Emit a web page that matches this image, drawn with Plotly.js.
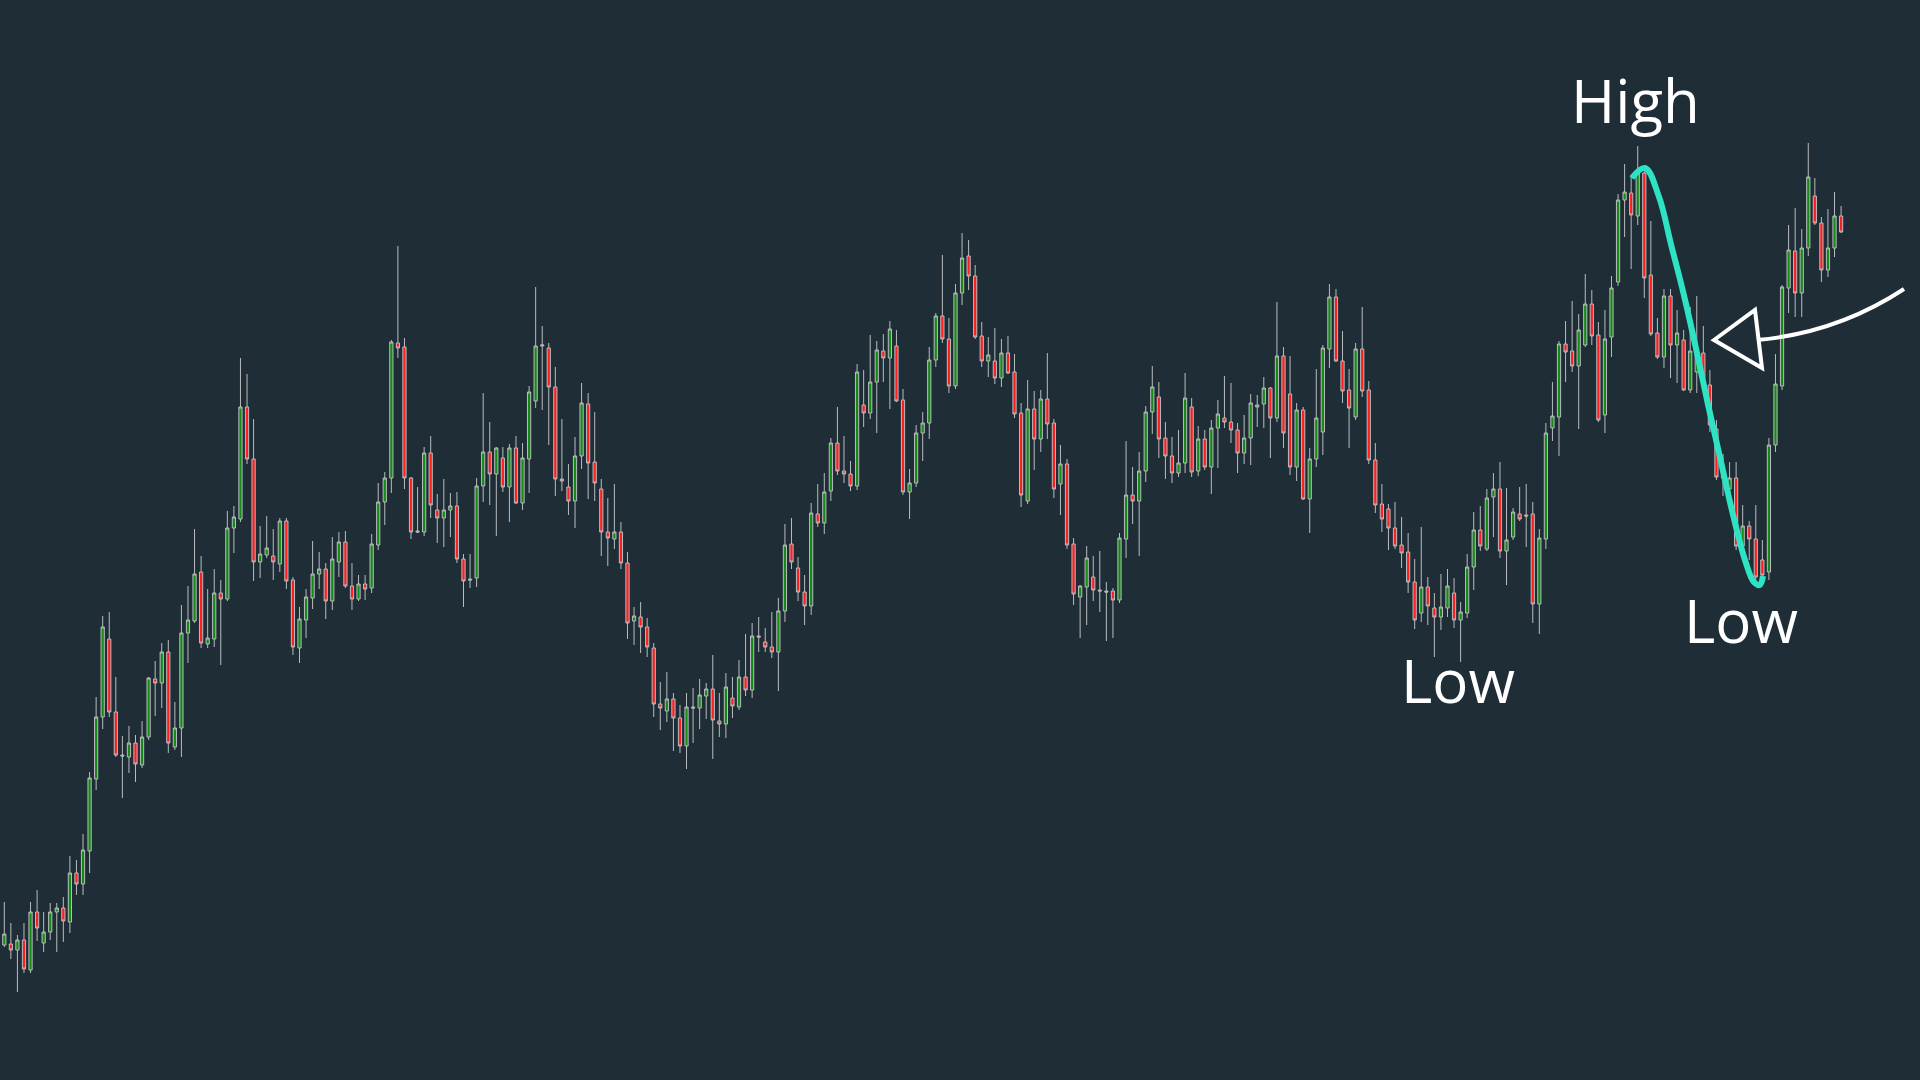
<!DOCTYPE html>
<html>
<head>
<meta charset="utf-8">
<script src="https://cdn.plot.ly/plotly-3.0.1.min.js"></script>
<style>
  html, body { margin: 0; padding: 0; background: #1f2d37; }
  #chart { width: 1920px; height: 1080px; }
</style>
</head>
<body>
<div id="chart"></div>
<script>
// Bar index (one per candle)
const idx = Array.from({length: 282}, (_, i) => i);

const open = [130,135,136,130,140,110,168,137,148,168,172,158,207,196,229,301,363,441,368,325,323,337,315,343,401,
397,428,333,352,447,459,508,436,441,487,481,552,561,673,621,518,525,524,516,559,500,432,460,482,506,
511,479,518,538,494,481,496,492,535,578,602,737,733,602,549,548,627,570,562,570,574,521,501,502,594,
628,606,622,593,632,577,621,679,734,732,693,601,593,579,624,676,618,591,548,541,548,517,459,463,453,
432,376,369,381,362,334,373,372,384,391,359,356,382,373,403,390,444,438,433,428,469,536,512,488,474,
566,557,589,637,609,606,594,675,667,698,729,722,734,680,588,597,647,657,720,764,741,694,787,824,804,
744,719,719,702,727,708,667,579,671,641,681,657,596,616,536,483,493,503,490,489,489,480,541,585,579,
609,668,683,642,624,607,617,673,609,641,613,652,662,658,650,627,642,673,676,692,662,724,686,613,670,
581,621,648,731,783,719,690,663,731,690,620,576,571,552,535,528,498,467,493,472,463,472,487,460,467,
513,550,531,583,591,529,543,566,565,566,476,541,652,663,736,729,714,735,776,745,665,743,798,880,887,
864,907,805,747,723,784,735,740,690,708,727,695,651,610,591,602,534,554,541,520,508,635,694,792,829,
787,832,884,857,810,832,864];
const high = [180,178,157,145,157,178,190,168,177,177,183,224,220,246,308,383,464,468,403,344,354,345,359,403,419,
437,440,378,475,494,551,524,491,511,500,569,574,722,706,661,554,564,551,562,562,503,473,491,539,528,
517,543,548,549,517,505,505,546,597,608,740,834,742,603,593,633,644,586,601,587,588,526,526,602,687,
658,633,633,636,644,637,694,793,754,737,713,661,616,643,697,687,668,601,582,596,558,528,473,478,462,
437,398,408,387,375,387,392,401,397,425,387,407,403,420,446,457,463,452,468,482,556,562,523,505,577,
596,607,642,673,644,619,716,710,745,739,746,759,750,691,611,655,668,733,767,825,762,796,847,840,815,
758,743,752,741,744,726,677,700,689,690,727,661,635,621,542,495,534,524,529,498,492,547,639,613,628,
674,714,698,658,643,650,707,682,654,650,660,680,704,697,657,665,686,685,703,693,778,733,724,677,673,
632,711,735,796,791,749,711,737,773,699,637,596,576,578,563,547,521,553,503,487,506,511,502,478,526,
568,574,591,607,618,592,572,593,596,578,551,657,698,739,759,779,766,806,790,758,770,804,886,916,904,
934,911,859,762,791,791,770,750,773,784,754,710,660,626,618,618,575,559,575,540,642,726,795,855,872,
851,937,902,863,871,888,874];
const low = [105,133,121,88,107,107,139,128,140,128,138,147,185,185,207,290,351,363,323,282,307,298,312,340,364,
372,327,330,323,417,457,432,432,433,415,479,527,558,616,499,502,522,500,508,491,425,417,442,471,491,
461,470,503,492,470,479,480,487,530,555,587,722,591,541,547,544,562,537,533,543,517,473,492,493,578,
575,544,588,558,576,570,587,672,670,635,584,589,565,552,611,581,579,524,514,531,511,441,435,427,423,
363,350,358,329,327,311,337,351,361,321,343,342,362,370,384,382,428,428,422,389,458,511,479,455,465,
553,546,579,605,597,589,590,653,661,647,698,671,678,585,561,593,619,641,713,737,687,691,775,790,741,
713,703,696,693,706,662,573,576,610,628,641,582,565,531,475,442,455,479,468,439,442,477,522,556,524,
598,646,622,601,597,603,607,603,604,610,586,612,652,637,607,616,615,653,652,622,658,632,605,599,580,
547,613,625,712,718,677,632,660,683,616,567,548,530,531,512,487,451,458,455,423,450,463,452,418,462,
490,529,529,543,522,495,540,559,533,457,446,531,639,624,698,708,651,733,735,658,647,723,794,843,811,
855,782,744,721,712,702,697,689,687,687,692,648,600,584,575,530,524,520,498,494,500,628,690,767,763,
763,824,855,798,803,823,847];
const close = [150,146,130,140,111,168,152,148,168,172,159,207,196,230,302,363,453,368,325,324,337,316,343,402,397,
428,337,352,447,460,506,437,442,487,481,552,563,673,621,518,526,532,518,559,499,433,461,483,506,511,
479,521,538,494,481,496,491,536,578,602,738,732,602,548,548,627,575,562,570,574,521,499,500,594,628,
606,632,593,632,577,622,688,734,735,693,601,599,579,624,677,617,597,548,542,548,517,457,464,453,433,
376,372,381,362,334,373,372,385,391,360,356,393,374,403,390,444,443,433,428,469,535,518,488,474,567,
557,588,637,609,606,594,708,667,698,730,722,751,679,588,597,647,657,720,764,741,694,787,822,804,743,
719,725,702,727,707,666,585,671,641,681,656,591,616,535,486,494,522,490,489,488,480,542,585,579,609,
668,693,641,624,607,617,682,608,641,613,652,666,658,650,627,642,677,675,692,662,724,647,613,670,581,
621,662,732,783,719,689,672,731,689,620,575,561,552,534,527,498,460,493,474,463,473,494,460,468,513,
550,534,582,591,529,540,568,561,564,476,542,647,664,736,728,714,750,776,744,660,741,792,880,888,865,
907,802,746,723,784,735,747,690,729,728,702,655,603,602,602,534,554,541,503,505,635,696,793,830,787,
832,903,857,810,832,864,848];

// Hand-drawn teal swing curve (bar index, price)
const curveX = [249.1, 251.1, 253.2, 255.1, 257.0, 258.9, 260.7, 262.6, 264.5, 266.4, 267.7, 268.6, 269.1];
const curveY = [902, 912, 884, 835, 786, 731, 676, 621, 566, 519, 498, 495, 504];

// Labels
const labels = [
  {text: 'High', x: 0.8516, y: 0.9074},
  {text: 'Low',  x: 0.7594, y: 0.3704},
  {text: 'Low',  x: 0.9068, y: 0.4259}
];

const traces = [
  {
    type: 'candlestick',
    x: idx, open: open, high: high, low: low, close: close,
    increasing: {line: {color: '#b9bcbf', width: 1}, fillcolor: '#148a14'},
    decreasing: {line: {color: '#b9bcbf', width: 1}, fillcolor: '#ff1e1e'},
    whiskerwidth: 0,
    hoverinfo: 'skip'
  },
  {
    type: 'scatter', mode: 'lines',
    x: curveX, y: curveY,
    line: {color: '#2ee3c3', width: 6, shape: 'spline', smoothing: 1.1},
    hoverinfo: 'skip'
  }
];

const layout = {
  width: 1920, height: 1080,
  margin: {l: 0, r: 0, t: 0, b: 0},
  paper_bgcolor: '#1f2d37',
  plot_bgcolor: '#1f2d37',
  showlegend: false,
  boxgap: 0.3,
  xaxis: {range: [0.3445, 293.03], visible: false, rangeslider: {visible: false}, fixedrange: true},
  yaxis: {range: [0, 1080], visible: false, fixedrange: true},
  annotations: labels.map(l => ({
    text: l.text, x: l.x, y: l.y, xref: 'paper', yref: 'paper',
    showarrow: false, xanchor: 'center', yanchor: 'middle',
    font: {family: 'Open Sans, Noto Sans, sans-serif', size: 60, color: '#ffffff'}
  })),
  shapes: [
    {type: 'path', xref: 'paper', yref: 'paper',
     path: 'M 0.99167 0.73241 Q 0.95677 0.69167 0.91510 0.68519',
     line: {color: '#ffffff', width: 4}},
    {type: 'path', xref: 'paper', yref: 'paper',
     path: 'M 0.89271 0.68519 L 0.91406 0.71296 L 0.91771 0.65926 Z',
     line: {color: '#ffffff', width: 4}, fillcolor: 'rgba(0,0,0,0)'}
  ]
};

Plotly.newPlot('chart', traces, layout, {displayModeBar: false, staticPlot: true});
</script>
</body>
</html>
